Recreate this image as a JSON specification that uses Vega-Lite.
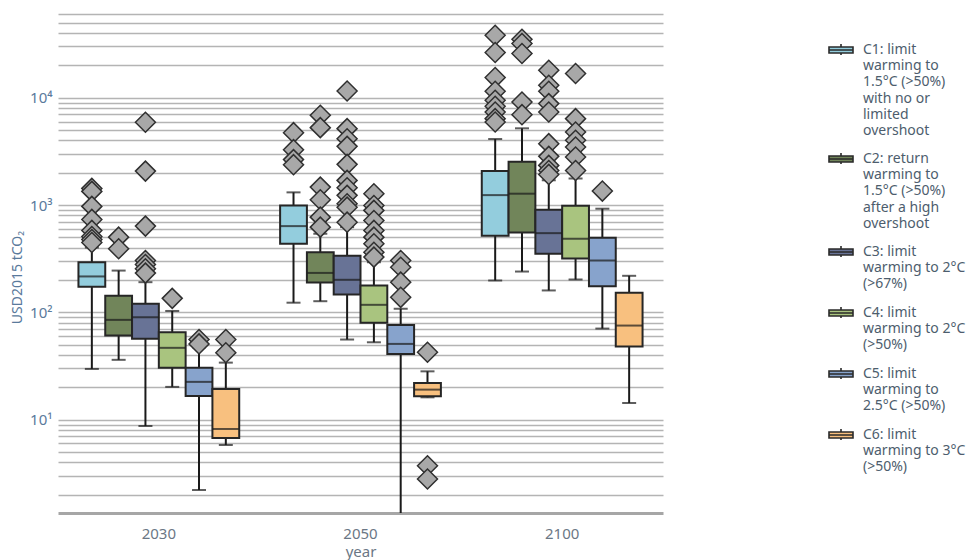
{
  "$schema": "https://vega.github.io/schema/vega-lite/v6.json",
  "width": 605,
  "height": 506,
  "autosize": "none",
  "padding": {"left": 58, "top": 7, "right": 310, "bottom": 47},
  "config": {
    "font": "Noto Sans",
    "view": {"stroke": null},
    "axisY": {
      "grid": true, "gridColor": "#b4b4b4", "gridWidth": 1.3, "ticks": false, "domain": false,
      "labelFontSize": 15, "labelColor": "#5a7a9c", "labelPadding": 6, "labelOverlap": false,
      "titleFontSize": 14, "titleFontWeight": "normal", "titleColor": "#5a7a9c", "titlePadding": 5, "titleY": 270
    },
    "axisX": {
      "grid": false, "ticks": false, "domain": true, "domainColor": "#a6a6a6", "domainWidth": 3,
      "labelFontSize": 15, "labelColor": "#6b7785", "labelPadding": 13, "labelAngle": 0,
      "titleFontSize": 15, "titleFontWeight": "normal", "titleColor": "#6b7785", "titlePadding": 3
    }
  },
  "datasets": {
    "boxes": [
      {"year": "2030", "cat": "C1", "lower": 29.7, "q1": 173, "median": 216, "q3": 293, "upper": 402},
      {"year": "2030", "cat": "C2", "lower": 36.1, "q1": 60.8, "median": 85.1, "q3": 142.6, "upper": 245},
      {"year": "2030", "cat": "C3", "lower": 8.73, "q1": 56.6, "median": 90, "q3": 120, "upper": 191},
      {"year": "2030", "cat": "C4", "lower": 20.2, "q1": 30.4, "median": 46.7, "q3": 65.2, "upper": 103},
      {"year": "2030", "cat": "C5", "lower": 2.21, "q1": 16.6, "median": 22.5, "q3": 30.4, "upper": 47.2},
      {"year": "2030", "cat": "C6", "lower": 5.81, "q1": 6.75, "median": 8.19, "q3": 19.3, "upper": 34},
      {"year": "2050", "cat": "C1", "lower": 123, "q1": 436, "median": 636, "q3": 991, "upper": 1312},
      {"year": "2050", "cat": "C2", "lower": 127, "q1": 190, "median": 233, "q3": 363, "upper": 540},
      {"year": "2050", "cat": "C3", "lower": 55.8, "q1": 146.6, "median": 201, "q3": 336, "upper": 622},
      {"year": "2050", "cat": "C4", "lower": 52.6, "q1": 79.8, "median": 117.5, "q3": 178, "upper": 293},
      {"year": "2050", "cat": "C5", "lower": 1.0, "q1": 41, "median": 50.8, "q3": 76.4, "upper": 108},
      {"year": "2050", "cat": "C6", "lower": 16.15, "q1": 16.5, "median": 19.05, "q3": 22, "upper": 28.2},
      {"year": "2100", "cat": "C1", "lower": 198, "q1": 517, "median": 1237, "q3": 2070, "upper": 4120},
      {"year": "2100", "cat": "C2", "lower": 240, "q1": 555, "median": 1275, "q3": 2535, "upper": 5185},
      {"year": "2100", "cat": "C3", "lower": 160, "q1": 351, "median": 547, "q3": 904, "upper": 1700},
      {"year": "2100", "cat": "C4", "lower": 202, "q1": 318, "median": 485, "q3": 985, "upper": 1770},
      {"year": "2100", "cat": "C5", "lower": 70.6, "q1": 175, "median": 304, "q3": 495, "upper": 924},
      {"year": "2100", "cat": "C6", "lower": 14.3, "q1": 48, "median": 75.3, "q3": 152, "upper": 219}
    ],
    "outliers": [
      {"year": "2030", "cat": "C1", "value": 1429}, {"year": "2030", "cat": "C1", "value": 1340},
      {"year": "2030", "cat": "C1", "value": 971}, {"year": "2030", "cat": "C1", "value": 734},
      {"year": "2030", "cat": "C1", "value": 580}, {"year": "2030", "cat": "C1", "value": 509},
      {"year": "2030", "cat": "C1", "value": 477}, {"year": "2030", "cat": "C1", "value": 448},
      {"year": "2030", "cat": "C2", "value": 502}, {"year": "2030", "cat": "C2", "value": 391},
      {"year": "2030", "cat": "C3", "value": 5900}, {"year": "2030", "cat": "C3", "value": 2070},
      {"year": "2030", "cat": "C3", "value": 636}, {"year": "2030", "cat": "C3", "value": 304},
      {"year": "2030", "cat": "C3", "value": 279}, {"year": "2030", "cat": "C3", "value": 255},
      {"year": "2030", "cat": "C3", "value": 232},
      {"year": "2030", "cat": "C4", "value": 135},
      {"year": "2030", "cat": "C5", "value": 55.8}, {"year": "2030", "cat": "C5", "value": 50.8},
      {"year": "2030", "cat": "C6", "value": 55.8}, {"year": "2030", "cat": "C6", "value": 42},
      {"year": "2050", "cat": "C1", "value": 4722}, {"year": "2050", "cat": "C1", "value": 3280},
      {"year": "2050", "cat": "C1", "value": 2650}, {"year": "2050", "cat": "C1", "value": 2377},
      {"year": "2050", "cat": "C2", "value": 6850}, {"year": "2050", "cat": "C2", "value": 5260},
      {"year": "2050", "cat": "C2", "value": 1469}, {"year": "2050", "cat": "C2", "value": 1120},
      {"year": "2050", "cat": "C2", "value": 771}, {"year": "2050", "cat": "C2", "value": 622},
      {"year": "2050", "cat": "C3", "value": 11560}, {"year": "2050", "cat": "C3", "value": 5150},
      {"year": "2050", "cat": "C3", "value": 4150}, {"year": "2050", "cat": "C3", "value": 3520},
      {"year": "2050", "cat": "C3", "value": 2393}, {"year": "2050", "cat": "C3", "value": 1696},
      {"year": "2050", "cat": "C3", "value": 1449}, {"year": "2050", "cat": "C3", "value": 1230},
      {"year": "2050", "cat": "C3", "value": 1028}, {"year": "2050", "cat": "C3", "value": 955},
      {"year": "2050", "cat": "C3", "value": 692},
      {"year": "2050", "cat": "C4", "value": 1274}, {"year": "2050", "cat": "C4", "value": 991},
      {"year": "2050", "cat": "C4", "value": 891}, {"year": "2050", "cat": "C4", "value": 718},
      {"year": "2050", "cat": "C4", "value": 580}, {"year": "2050", "cat": "C4", "value": 502},
      {"year": "2050", "cat": "C4", "value": 436}, {"year": "2050", "cat": "C4", "value": 363},
      {"year": "2050", "cat": "C4", "value": 327},
      {"year": "2050", "cat": "C5", "value": 304}, {"year": "2050", "cat": "C5", "value": 263},
      {"year": "2050", "cat": "C5", "value": 191}, {"year": "2050", "cat": "C5", "value": 138},
      {"year": "2050", "cat": "C6", "value": 42.5}, {"year": "2050", "cat": "C6", "value": 3.72},
      {"year": "2050", "cat": "C6", "value": 2.8},
      {"year": "2100", "cat": "C1", "value": 38200}, {"year": "2100", "cat": "C1", "value": 26360},
      {"year": "2100", "cat": "C1", "value": 15400}, {"year": "2100", "cat": "C1", "value": 11480},
      {"year": "2100", "cat": "C1", "value": 9460}, {"year": "2100", "cat": "C1", "value": 8320},
      {"year": "2100", "cat": "C1", "value": 7360}, {"year": "2100", "cat": "C1", "value": 6380},
      {"year": "2100", "cat": "C1", "value": 5930},
      {"year": "2100", "cat": "C2", "value": 35080}, {"year": "2100", "cat": "C2", "value": 31980},
      {"year": "2100", "cat": "C2", "value": 25780}, {"year": "2100", "cat": "C2", "value": 9120},
      {"year": "2100", "cat": "C2", "value": 6950},
      {"year": "2100", "cat": "C3", "value": 18030}, {"year": "2100", "cat": "C3", "value": 13060},
      {"year": "2100", "cat": "C3", "value": 11480}, {"year": "2100", "cat": "C3", "value": 8810},
      {"year": "2100", "cat": "C3", "value": 7360}, {"year": "2100", "cat": "C3", "value": 3730},
      {"year": "2100", "cat": "C3", "value": 2840}, {"year": "2100", "cat": "C3", "value": 2340},
      {"year": "2100", "cat": "C3", "value": 2100}, {"year": "2100", "cat": "C3", "value": 1928},
      {"year": "2100", "cat": "C4", "value": 16790}, {"year": "2100", "cat": "C4", "value": 6380},
      {"year": "2100", "cat": "C4", "value": 4790}, {"year": "2100", "cat": "C4", "value": 4010},
      {"year": "2100", "cat": "C4", "value": 3470}, {"year": "2100", "cat": "C4", "value": 2800},
      {"year": "2100", "cat": "C4", "value": 2100},
      {"year": "2100", "cat": "C5", "value": 1349}
    ]
  },
  "encoding": {
    "x": {"field": "year", "type": "nominal", "title": "year", "scale": {"paddingInner": 0, "paddingOuter": 0}},
    "xOffset": {"field": "cat", "type": "nominal", "scale": {"paddingInner": 0, "paddingOuter": 0.763}}
  },
  "layer": [
    {
      "data": {"name": "boxes"},
      "mark": {"type": "rule", "color": "#1a1a1a", "strokeWidth": 2, "clip": true},
      "encoding": {
        "y": {
          "field": "lower", "type": "quantitative", "title": "USD2015 tCO₂",
          "scale": {"type": "log", "domain": [1.35, 70000], "nice": false},
          "axis": {
            "values": [2,3,4,5,6,7,8,9,10,20,30,40,50,60,70,80,90,100,200,300,400,500,600,700,800,900,1000,2000,3000,4000,5000,6000,7000,8000,9000,10000,20000,30000,40000,50000,60000],
            "labelExpr": "datum.value == 10 ? '10¹' : datum.value == 100 ? '10²' : datum.value == 1000 ? '10³' : datum.value == 10000 ? '10⁴' : ''"
          }
        },
        "y2": {"field": "upper"}
      }
    },
    {
      "data": {"name": "boxes"},
      "mark": {"type": "tick", "color": "#1a1a1a", "size": 14, "thickness": 2, "clip": true},
      "encoding": {"y": {"field": "lower", "type": "quantitative", "title": "USD2015 tCO₂"}}
    },
    {
      "data": {"name": "boxes"},
      "mark": {"type": "tick", "color": "#1a1a1a", "size": 14, "thickness": 2, "clip": true},
      "encoding": {"y": {"field": "upper", "type": "quantitative", "title": "USD2015 tCO₂"}}
    },
    {
      "data": {"name": "boxes"},
      "mark": {"type": "bar", "stroke": "#262626", "strokeWidth": 2},
      "encoding": {
        "y": {"field": "q1", "type": "quantitative", "title": "USD2015 tCO₂"},
        "y2": {"field": "q3"},
        "fill": {
          "field": "cat", "type": "nominal",
          "scale": {"domain": ["C1","C2","C3","C4","C5","C6"], "range": ["#93cddd","#71855a","#687396","#a9c47f","#87a3cc","#f8c07f"]},
          "legend": {
            "orient": "none", "legendX": 770, "legendY": 30, "title": null, "padding": 0,
            "rowPadding": 8, "labelOffset": 9, "symbolSize": 576,
            "symbolType": "M-1,-0.25H1V0.25H-1Z M-1,0H1 M0,-0.25V-0.5 M0,0.25V0.42",
            "symbolStrokeColor": "#2a2a2a", "symbolStrokeWidth": 1.6, "symbolOpacity": 1,
            "labelFontSize": 14, "labelColor": "#4d5d6d", "labelLimit": 300, "labelBaseline": "middle",
            "labelExpr": "datum.label == 'C1' ? ['C1: limit','warming to','1.5°C (>50%)','with no or','limited','overshoot'] : datum.label == 'C2' ? ['C2: return','warming to','1.5°C (>50%)','after a high','overshoot'] : datum.label == 'C3' ? ['C3: limit','warming to 2°C','(>67%)'] : datum.label == 'C4' ? ['C4: limit','warming to 2°C','(>50%)'] : datum.label == 'C5' ? ['C5: limit','warming to','2.5°C (>50%)'] : ['C6: limit','warming to 3°C','(>50%)']",
            "encode": {"labels": {"update": {"lineHeight": {"value": 16.2}}}}
          }
        }
      }
    },
    {
      "data": {"name": "boxes"},
      "mark": {"type": "tick", "color": "#1a1a1a", "size": 26, "thickness": 2},
      "encoding": {"y": {"field": "median", "type": "quantitative", "title": "USD2015 tCO₂"}}
    },
    {
      "data": {"name": "outliers"},
      "mark": {"type": "point", "shape": "diamond", "size": 400, "fill": "#a8a8a8", "fillOpacity": 1, "stroke": "#303030", "strokeWidth": 1.5, "opacity": 1},
      "encoding": {"y": {"field": "value", "type": "quantitative", "title": "USD2015 tCO₂"}}
    }
  ]
}
